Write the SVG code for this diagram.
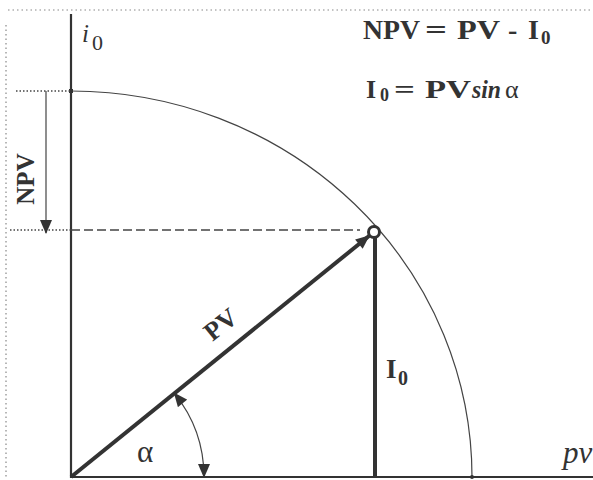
<svg xmlns="http://www.w3.org/2000/svg" width="593" height="480" viewBox="0 0 593 480">
<style>
.frame{stroke:#888;stroke-width:1.2;stroke-dasharray:1.5 3;fill:none}
.axis{stroke:#333;stroke-width:2.2;fill:none}
.thick{stroke:#333;stroke-width:4;fill:none}
.thin{stroke:#444;stroke-width:1.2;fill:none}
.dot{stroke:#444;stroke-width:1.6;stroke-dasharray:1.5 2;fill:none}
.dash{stroke:#444;stroke-width:1.6;stroke-dasharray:9 4;fill:none}
.lab{font-family:"Liberation Serif","Times New Roman",serif;fill:#333}
.b{font-weight:bold}
.i{font-style:italic}
</style>
<defs>
<marker id="tri" viewBox="0 0 14 12" refX="13" refY="6" markerWidth="15" markerHeight="12" markerUnits="userSpaceOnUse" orient="auto-start-reverse">
<path d="M0 0 L14 6 L0 12 Z" fill="#333"/>
</marker>
</defs>
<g id="frame">
<line class="frame" x1="8" y1="10" x2="593" y2="10"/>
<line class="frame" x1="6" y1="25" x2="6" y2="478"/>
</g>
<g id="axes">
<line class="axis" x1="71" y1="14" x2="71" y2="478"/>
<line class="axis" x1="70" y1="477" x2="593" y2="477"/>
</g>
<g id="arc">
<path class="thin" d="M71 91 A401 386 0 0 1 472 477"/>
<rect x="69" y="89" width="4" height="4" fill="#333"/>
<circle cx="472" cy="477" r="2" fill="#333"/>
</g>
<g id="connectors">
<line class="dot" x1="16" y1="91" x2="71" y2="91"/>
<line class="dot" x1="10" y1="230" x2="71" y2="230"/>
<line class="dash" x1="71" y1="230" x2="360" y2="230"/>
<line class="thin" x1="46" y1="91" x2="46" y2="233" marker-end="url(#tri)"/>
<line class="thick" x1="71" y1="477" x2="369" y2="236" marker-end="url(#tri)"/>
<line class="thick" x1="375" y1="237" x2="375" y2="477"/>
<path class="thin" d="M204 477 A133 133 0 0 0 174.4 393.3" marker-start="url(#tri)" marker-end="url(#tri)"/>
</g>
<g id="point">
<circle cx="374" cy="232" r="5.5" fill="#fff" stroke="#333" stroke-width="3"/>
</g>
<g id="labels">
<text class="lab i" x="82" y="42" font-size="25">i</text>
<text class="lab" x="92" y="50" font-size="22">0</text>
<text class="lab b" y="39" font-size="28"><tspan x="363" textLength="57" lengthAdjust="spacingAndGlyphs">NPV</tspan><tspan x="425" textLength="22" lengthAdjust="spacingAndGlyphs">=</tspan><tspan x="457" textLength="43" lengthAdjust="spacingAndGlyphs">PV</tspan><tspan x="508">-</tspan><tspan x="528">I</tspan><tspan x="541" dy="5" font-size="19">0</tspan></text>
<text class="lab b" y="98" font-size="26"><tspan x="366">I</tspan><tspan x="380" dy="3" font-size="18">0</tspan><tspan x="394" dy="-3" textLength="21" lengthAdjust="spacingAndGlyphs">=</tspan><tspan x="425" textLength="46" lengthAdjust="spacingAndGlyphs">PV</tspan><tspan class="i" x="472" textLength="29" lengthAdjust="spacingAndGlyphs">sin</tspan><tspan x="505" font-weight="normal">α</tspan></text>
<text class="lab b" font-size="25" text-anchor="middle" transform="translate(34 179) rotate(-90)">NPV</text>
<text class="lab b" font-size="26" text-anchor="middle" transform="translate(226 331) rotate(-39)">PV</text>
<text class="lab b" x="386" y="378" font-size="27">I</text>
<text class="lab b" x="398" y="385" font-size="20">0</text>
<text class="lab" x="137" y="462" font-size="31">α</text>
<text class="lab i" x="563" y="463" font-size="31">pv</text>
</g>
</svg>
